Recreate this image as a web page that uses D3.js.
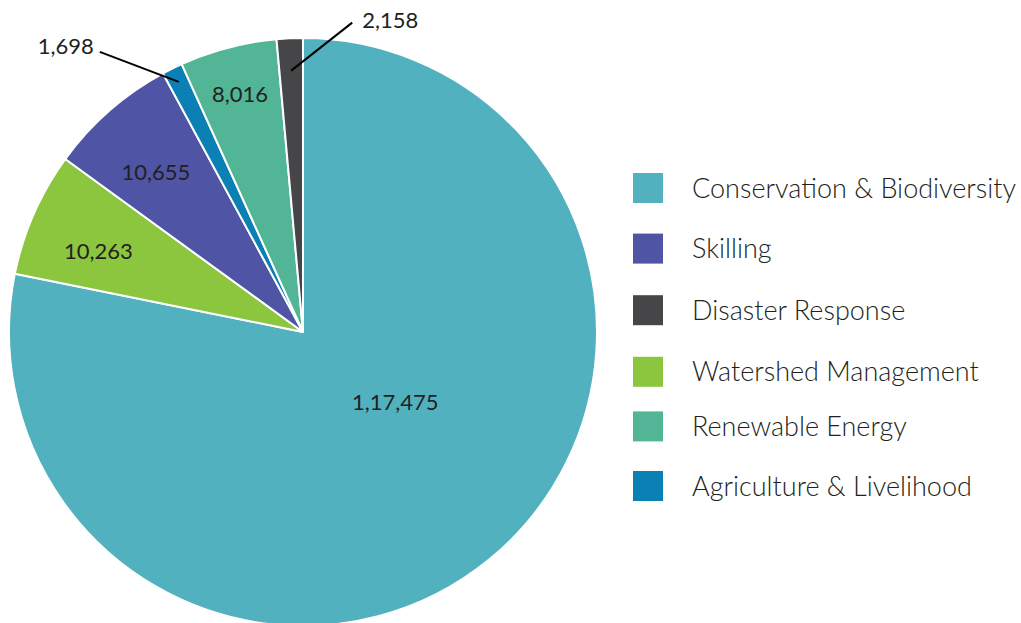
<!DOCTYPE html>
<html>
<head>
<meta charset="utf-8">
<script src="https://cdn.jsdelivr.net/npm/d3@7"></script>
<style>
  body { margin: 0; background: #fff; }
  svg { display: block; }
  text { font-family: Lato, "Open Sans", sans-serif; fill: #231f20; }
</style>
</head>
<body>
<script>
// Data, in pie order (clockwise from 12 o'clock)
const categories = ["Conservation & Biodiversity", "Watershed Management", "Skilling",
  "Agriculture & Livelihood", "Renewable Energy", "Disaster Response"];
const values = [117475, 10263, 10655, 1698, 8016, 2158];
const valueLabels = ["1,17,475", "10,263", "10,655", "1,698", "8,016", "2,158"];
const colors = ["#52b1bf", "#8cc63f", "#5054a4", "#0a80b5", "#52b596", "#464547"];

// Legend order
const legendOrder = ["Conservation & Biodiversity", "Skilling", "Disaster Response",
  "Watershed Management", "Renewable Energy", "Agriculture & Livelihood"];

const width = 1021;
const height = 623;
const cx = 303, cy = 332, radius = 294;

const svg = d3.select("body")
    .append("svg")
    .attr("width", width)
    .attr("height", height);

const color = d3.scaleOrdinal().domain(categories).range(colors);

const pie = d3.pie()
    .value(d => d.value)
    .sort(null);

const data = categories.map((c, i) => ({ name: c, value: values[i], label: valueLabels[i] }));
const arcs = pie(data);

const arc = d3.arc().innerRadius(0).outerRadius(radius);

const g = svg.append("g").attr("transform", `translate(${cx},${cy})`);

g.selectAll("path")
    .data(arcs)
    .enter()
    .append("path")
    .attr("d", arc)
    .attr("fill", d => color(d.data.name))
    .attr("stroke", "#fff")
    .attr("stroke-width", 2)
    .attr("stroke-linejoin", "round");

// Labels inside slices
const ringArc = k => d3.arc().innerRadius(radius * k).outerRadius(radius * k);
const smallCut = 0.03; // fraction below which a callout is used
const total = d3.sum(values);

arcs.forEach((d, i) => {
    const frac = d.value / total;
    if (frac < smallCut) return;
    let x, y;
    if (i === 0) {
        [x, y] = ringArc(0.41).centroid(d);
        x += 16; y -= 24;
    } else if (d.data.name === "Renewable Energy") {
        [x, y] = ringArc(0.84).centroid(d);
    } else {
        [x, y] = ringArc(0.76).centroid(d);
        y += 8;
    }
    g.append("text")
        .attr("x", x)
        .attr("y", y)
        .attr("text-anchor", "middle")
        .attr("dominant-baseline", "central")
        .attr("font-size", 22)
        .text(d.data.label);
});

// Callouts for the thin slices
const callouts = {
    "Agriculture & Livelihood": { r: 0.95, ex: -79, ey: -30, anchor: "end", tx: -6, ty: -6 },
    "Disaster Response": { r: 0.89, ex: 61, ey: -48, anchor: "start", tx: 10, ty: -3 }
};

arcs.forEach(d => {
    const c = callouts[d.data.name];
    if (!c) return;
    const [x0, y0] = ringArc(c.r).centroid(d);
    const x1 = x0 + c.ex, y1 = y0 + c.ey;
    g.append("line")
        .attr("x1", x0).attr("y1", y0)
        .attr("x2", x1).attr("y2", y1)
        .attr("stroke", "#000")
        .attr("stroke-width", 2);
    g.append("text")
        .attr("x", x1 + c.tx)
        .attr("y", y1 + c.ty)
        .attr("text-anchor", c.anchor)
        .attr("dominant-baseline", "central")
        .attr("font-size", 22)
        .text(d.data.label);
});

// Legend
const legendY = d3.scalePoint()
    .domain(legendOrder)
    .range([188, 486]);

const legend = svg.append("g");
const rows = legend.selectAll("g")
    .data(legendOrder)
    .enter()
    .append("g")
    .attr("transform", (d, i) => {
        // rows sit slightly unevenly in the source
        const offs = [0, 1, 3, 5, 0, 0];
        return `translate(633,${legendY(d) + offs[i]})`;
    });

rows.append("rect")
    .attr("x", 0)
    .attr("y", -15)
    .attr("width", 30)
    .attr("height", 30)
    .attr("fill", d => color(d));

rows.append("text")
    .attr("x", 59)
    .attr("y", -1)
    .attr("dominant-baseline", "central")
    .attr("font-size", 27)
    .attr("font-weight", 300)
    .text(d => d);
</script>
</body>
</html>
